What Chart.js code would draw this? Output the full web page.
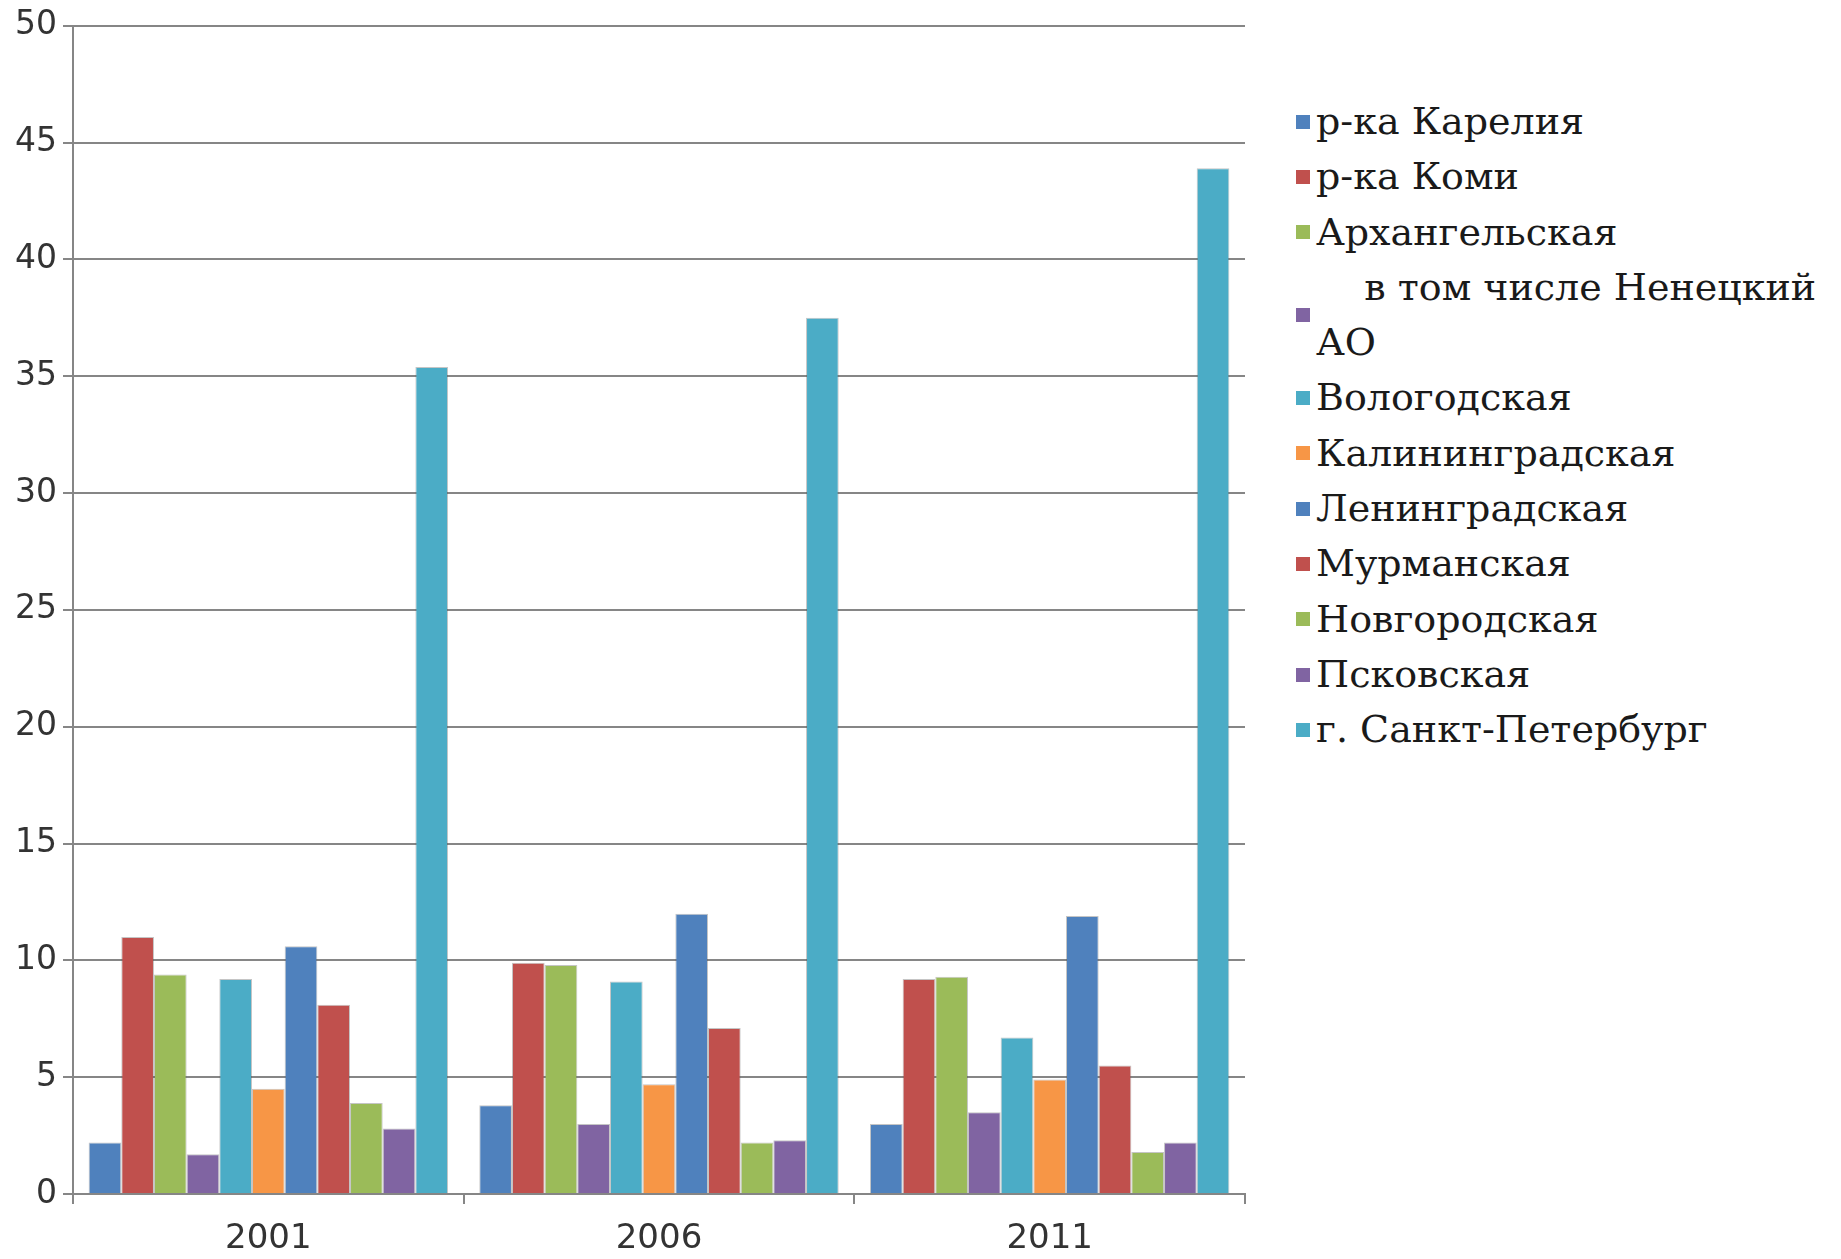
<!DOCTYPE html>
<html>
<head>
<meta charset="utf-8">
<script src="https://cdn.jsdelivr.net/npm/chart.js@4/dist/chart.umd.min.js"></script>
<style>
    body { margin: 0; background: #fff; width: 1841px; height: 1259px; overflow: hidden; position: relative; }
    #wrap { position: absolute; left: 0; top: 0; width: 1260px; height: 1259px; }
    #legend { position: absolute; left: 1296px; top: 94px; width: 542px; font-family: "DejaVu Serif", serif; font-size: 38px; color: #1a1a1a; }
    .item { display: flex; align-items: center; line-height: 55.3px; }
    .box { width: 14px; height: 14px; margin-right: 6px; flex: none; }
    .txt { white-space: pre-wrap; }
</style>
</head>
<body>
<div id="wrap"><canvas id="chart"></canvas></div>
<div id="legend"></div>
<script>
const years = ["2001", "2006", "2011"];
const regions = ["р-ка Карелия", "р-ка Коми", "Архангельская", "    в том числе Ненецкий АО", "Вологодская",
    "Калининградская", "Ленинградская", "Мурманская", "Новгородская", "Псковская", "г. Санкт-Петербург"];

// one array per region: 2001, 2006, 2011
const karelia = [2.2, 3.8, 3.0];
const komi = [11.0, 9.9, 9.2];
const arkhangelsk = [9.4, 9.8, 9.3];
const nenets = [1.7, 3.0, 3.5];
const vologda = [9.2, 9.1, 6.7];
const kaliningrad = [4.5, 4.7, 4.9];
const leningrad = [10.6, 12.0, 11.9];
const murmansk = [8.1, 7.1, 5.5];
const novgorod = [3.9, 2.2, 1.8];
const pskov = [2.8, 2.3, 2.2];
const spb = [35.4, 37.5, 43.9];
const yTicks = [0, 5, 10, 15, 20, 25, 30, 35, 40, 45, 50];

const values = [karelia, komi, arkhangelsk, nenets, vologda, kaliningrad, leningrad, murmansk, novgorod, pskov, spb];
const colors = ["#4F81BD", "#C0504D", "#9BBB59", "#8064A2", "#4BACC6", "#F79646",
    "#4F81BD", "#C0504D", "#9BBB59", "#8064A2", "#4BACC6"];

const datasets = regions.map(function (name, i) {
    return {
        label: name.trim(),
        data: values[i],
        backgroundColor: colors[i],
        borderColor: "rgba(90, 90, 90, 0.35)",
        borderWidth: 1,
        barPercentage: 1.0,
        categoryPercentage: 0.92
    };
});

const ctx = document.getElementById("chart").getContext("2d");
const chart = new Chart(ctx, {
    type: "bar",
    data: { labels: years, datasets: datasets },
    options: {
        responsive: true,
        maintainAspectRatio: false,
        animation: false,
        layout: { padding: { top: 22, right: 15, left: 0, bottom: 0 } },
        plugins: { legend: { display: false }, tooltip: { enabled: false } },
        scales: {
            x: {
                grid: { drawOnChartArea: false, drawTicks: true, tickLength: 10, offset: true, color: "#868686", lineWidth: 2 },
                border: { display: true, color: "#868686", width: 2 },
                ticks: { color: "#333", padding: 15, font: { family: "DejaVu Sans", size: 34 } },
                afterFit: function (s) { s.height = 65; }
            },
            y: {
                min: 0,
                max: 50,
                afterBuildTicks: function (s) { s.ticks = yTicks.map(v => ({ value: v })); },
                grid: { color: "#868686", lineWidth: 2, tickLength: 10 },
                border: { display: true, color: "#868686", width: 2 },
                ticks: { color: "#333", padding: 6, font: { family: "DejaVu Sans", size: 33 } },
                afterFit: function (s) { s.width = 73; }
            }
        }
    }
});

// legend drawn as html next to the canvas
const legend = document.getElementById("legend");
regions.forEach(function (name, i) {
    const row = document.createElement("div");
    row.className = "item";
    row.innerHTML = '<span class="box" style="background:' + colors[i] + '"></span><span class="txt"></span>';
    row.querySelector(".txt").textContent = name;
    legend.appendChild(row);
});
</script>
</body>
</html>
